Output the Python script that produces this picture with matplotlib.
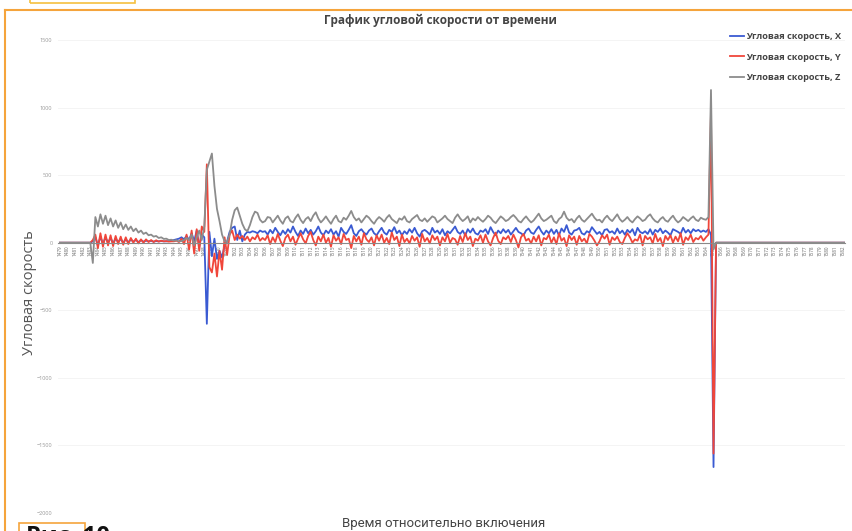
'''
Angular velocity vs time since switch-on (gyro X, Y, Z).
'''

import numpy as np
import matplotlib.pyplot as plt
from matplotlib.lines import Line2D
from matplotlib.patches import Rectangle

# category labels on the time axis, 3 samples per label
first_label = 1479
last_label = 1582
samples_per_label = 3

# angular velocity X (one row = one label step)
gyro_x = [
    0, 0, 0,  0, 0, 0,  0, 0, 0,  0, 0, 0,
    0, 10, 40,  -20, 45, -10,  40, 0, 35,  -5, 30, 5,  28, 0, 25,
    5, 22, 8,  20, 5, 18,  8, 15, 10,  14, 8, 12,  10, 12, 10,
    10, 12, 15,  20, 25, 30,  40, 25, 50,  20, 70, 10,  90, -30, 60,
    40, -600, 80,  -100, 30, -120,  -60, -110, -20,  10, 80, 110,  120, 20, 90,
    10, 60, 80,  75, 85, 80,  70, 90, 80,
    85, 60, 95,  70, 110, 80,  55, 90, 65,  100, 75, 120,  80, 50, 90,
    65, 105, 70,  95, 60, 85,  120, 75, 55,  90, 70, 100,  60, 85, 45,
    110, 80, 65,  95, 130, 70,  50, 85, 100,  75, 60, 90,  105, 70, 55,
    85, 110, 75,  60, 95, 80,  115, 70, 90,  55, 85, 65,  100, 75, 110,
    70, 45, 85,  95, 80, 60,  110, 75, 90,  65, 100, 55,  85, 70, 95,
    120, 80, 65,  90, 55, 100,  75, 105, 70,  60, 90, 80,  100, 65, 115,
    80, 55, 90,  70, 100, 75,  95, 60, 85,  110, 80, 70,  55, 90, 105,
    75, 65, 95,  120, 85, 60,  90, 70, 100,  65, 95, 55,  105, 80, 130,
    75, 60, 90,  95, 110, 70,  60, 85, 75,  115, 90, 65,  80, 55, 95,
    100, 75, 85,  65, 105, 70,  90, 60, 95,  75, 100, 55,  110, 80, 70,
    85, 65, 100,  60, 95, 80,  105, 70, 90,  75, 55, 100,  90, 80, 65,
    110, 75, 95,  70, 100, 85,  95, 80, 90,
    80, 100, 60,  -1660, 0, 0,
    0, 0, 0,  0, 0, 0,  0, 0, 0,  0, 0, 0,  0, 0, 0,  0, 0, 0,
    0, 0, 0,  0, 0, 0,  0, 0, 0,  0, 0, 0,  0, 0, 0,  0, 0, 0,
    0, 0, 0,  0, 0, 0,  0, 0, 0,  0, 0, 0,  0, 0, 0,
]

# angular velocity Y
gyro_y = [
    0, 0, 0,  0, 0, 0,  0, 0, 0,  0, 0, 0,
    0, 20, 60,  -40, 70, -30,  60, -20, 55,  -25, 50, -10,  45, -15, 40,
    -10, 35, 0,  30, -5, 25,  0, 25, 5,  20, 5, 18,  8, 15, 10,
    12, 8, 10,  10, 15, 5,  30, -10, 60,  -50, 90, -80,  100, -60, 120,
    80, 580, -180,  -220, -80, -250,  -60, -200, 40,  -90, 60, 90,  20, 60, 30,
    50, 20, 45,  10, 40, 25,  60, 15, 35,
    20, 55, -10,  40, 5, 65,  15, -25, 35,  60, 10, 45,  -15, 30, 70,
    25, -5, 50,  80, 20, -20,  45, 10, 60,  0, 35, -30,  55, 15, 40,
    -10, 65, 20,  30, -40, 50,  10, 45, -15,  70, 25, 5,  40, -20, 55,
    15, 60, 0,  35, -10, 75,  20, 45, -25,  60, 5, 30,  -5, 50, 15,
    40, -30, 65,  10, 35, -5,  55, 20, 45,  -20, 40, 10,  65, 0, 35,
    25, -15, 50,  5, 70, 20,  45, -25, 30,  15, 55, 0,  60, 10, -20,
    35, 75, 15,  -10, 40, 25,  50, 5, 60,  20, -35, 40,  65, 15, 30,
    -5, 45, 10,  55, -20, 35,  25, 60, 0,  40, -10, 70,  15, 35, -25,
    55, 20, 45,  -15, 50, 10,  30, -5, 65,  45, 15, -20,  10, 55, 30,
    60, -15, 40,  20, 45, 5,  -10, 35, 70,  40, 0, 25,  15, 60, -20,
    50, 25, 40,  -5, 65, 10,  35, -25, 50,  20, 55, 0,  45, 10, 70,
    -15, 40, 20,  60, 5, 35,  25, 50, 15,
    40, 60, 970,  -1560, 0, 0,
    0, 0, 0,  0, 0, 0,  0, 0, 0,  0, 0, 0,  0, 0, 0,  0, 0, 0,
    0, 0, 0,  0, 0, 0,  0, 0, 0,  0, 0, 0,  0, 0, 0,  0, 0, 0,
    0, 0, 0,  0, 0, 0,  0, 0, 0,  0, 0, 0,  0, 0, 0,
]

# angular velocity Z
gyro_z = [
    0, 0, 0,  0, 0, 0,  0, 0, 0,  0, 0, 0,
    0, -150, 190,  120, 210, 140,  200, 130, 180,  120, 165, 110,  150, 100, 135,
    95, 120, 85,  105, 75, 90,  65, 75, 55,  60, 45, 50,  35, 40, 28,
    30, 20, 22,  15, 18, 10,  12, 20, 35,  20, 60, -20,  40, 90, 20,
    120, 540, 600,  660, 420, 250,  160, 60, 10,  5, 60, 170,  240, 260, 200,
    140, 100, 85,  130, 190, 230,  220, 170, 150,
    160, 190, 185,  150, 175, 200,  165, 140, 180,  195, 160, 150,  185, 210, 170,
    145, 175, 190,  160, 200, 225,  180, 150, 170,  195, 165, 140,  175, 200, 160,
    150, 185, 170,  200, 235, 190,  165, 180, 150,  175, 200, 185,  160, 140, 170,
    190, 175, 155,  185, 205, 175,  160, 145, 180,  170, 195, 160,  150, 175, 190,
    205, 170, 160,  180, 155, 175,  195, 185, 150,  165, 180, 200,  175, 160, 145,
    185, 210, 180,  160, 175, 195,  150, 180, 165,  190, 170, 155,  175, 200, 185,
    160, 145, 170,  195, 180, 160,  170, 190, 205,  185, 160, 150,  175, 195, 170,
    150, 165, 190,  215, 180, 160,  170, 185, 200,  160, 145, 175,  190, 230, 185,
    165, 175, 150,  180, 200, 170,  155, 175, 195,  215, 185, 165,  170, 150, 180,
    200, 175, 160,  185, 210, 175,  155, 170, 190,  165, 150, 175,  195, 180, 160,
    170, 195, 210,  180, 160, 150,  175, 190, 165,  155, 180, 200,  170, 150, 165,
    190, 175, 160,  180, 195, 170,  160, 185, 175,
    170, 190, 1130,  -50, 0, 0,
    0, 0, 0,  0, 0, 0,  0, 0, 0,  0, 0, 0,  0, 0, 0,  0, 0, 0,
    0, 0, 0,  0, 0, 0,  0, 0, 0,  0, 0, 0,  0, 0, 0,  0, 0, 0,
    0, 0, 0,  0, 0, 0,  0, 0, 0,  0, 0, 0,  0, 0, 0,
]

series_names = ['Угловая скорость, X', 'Угловая скорость, Y', 'Угловая скорость, Z']
colors = ['#3a5ad2', '#f0463a', '#8c8c8c']

plt.rcParams['font.family'] = ['Open Sans', 'DejaVu Sans']

fig = plt.figure(figsize=(8.53, 5.31), dpi=100)
ax = fig.add_axes([58 / 853, 18 / 531, 787 / 853, 473 / 531])

for vals, name, c in zip([gyro_x, gyro_y, gyro_z], series_names, colors):
    t = first_label + np.arange(len(vals)) / samples_per_label
    ax.plot(t, vals, color=c, lw=1.3, label=name)

# move the category axis to y = 0 first (this resets the ticks)
ax.spines['bottom'].set_position(('data', 0))
ax.spines['bottom'].set_color('#8a8a8a')
for s in ['top', 'right', 'left']:
    ax.spines[s].set_visible(False)

ax.set_xlim(first_label - 0.25, last_label + 0.3)
ax.set_ylim(-2000, 1500)
ax.set_yticks(range(-2000, 1501, 500))
labels = list(range(first_label, last_label + 1))
ax.set_xticks(labels)
ax.set_xticklabels([str(v) for v in labels], rotation=90, fontsize=3.3, color='#666666')
ax.tick_params(axis='x', length=0, pad=2)
ax.tick_params(axis='y', length=0, labelsize=4, labelcolor='#999999', pad=4)
ax.grid(axis='y', color='#f2f2f2', lw=0.6)
ax.set_axisbelow(True)

fig.text(440 / 853, 1 - 20 / 531, 'График угловой скорости от времени',
         fontsize=8.5, fontweight='bold', color='#444444', ha='center', va='center')
fig.text(30 / 853, 1 - 293 / 531, 'Угловая скорость', rotation=90,
         fontsize=10.5, color='#555555', ha='center', va='center')
fig.text(444 / 853, 1 - 523 / 531, 'Время относительно включения',
         fontsize=9.5, color='#444444', ha='center', va='center', family=['Roboto', 'DejaVu Sans'])

fig.legend(loc='upper left', bbox_to_anchor=(722 / 853, 1 - 24 / 531), frameon=False,
           prop={'size': 6.6, 'weight': 'bold'}, handlelength=1.5, handletextpad=0.2,
           labelspacing=1.25, labelcolor='#444444')

# scanned chart-area frame and page boxes
border = '#f5a43c'
fig.add_artist(Line2D([5 / 853, 5 / 853], [0, 1 - 10 / 531], color=border, lw=1.5,
                      transform=fig.transFigure))
fig.add_artist(Line2D([5 / 853, 1], [1 - 10 / 531, 1 - 10 / 531], color=border, lw=1.5,
                      transform=fig.transFigure))
fig.add_artist(Rectangle((30 / 853, 1 - 3 / 531), 105 / 853, 0.05, fill=False,
                         edgecolor='#f5c040', lw=1.2, transform=fig.transFigure))
fig.add_artist(Rectangle((19 / 853, -0.05), 66 / 853, 0.05 + 8 / 531, fill=False,
                         edgecolor=border, lw=1.2, transform=fig.transFigure))
# caption of the scanned page, only its top shows in the picture
fig.text(26 / 853, 6 / 531, 'Рис. 10', fontsize=17, fontweight='bold',
         color='#111111', ha='left', va='top')

fig.savefig('out.png', dpi=100)
